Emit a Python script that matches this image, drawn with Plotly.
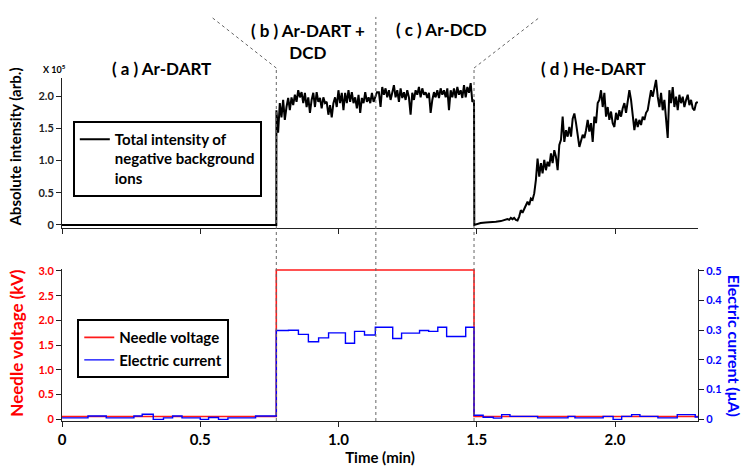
import numpy as np
import plotly.graph_objects as go

# ---------------- data ----------------
# Top panel: total intensity of negative background ions (x 10^5), time in min
seg_a_time = [0.0, 0.775]
seg_a_val = [0.0, 0.0]

seg_b_start, seg_b_end = 0.7755, 1.139
seg_b_val = [1.78, 1.43, 1.89, 1.67, 1.94, 1.63, 1.83, 1.97, 1.78, 1.98, 1.86, 2.02, 1.91,
             2.09, 1.98, 2.06, 1.89, 2.05, 1.83, 1.98, 1.74, 1.94, 2.05, 1.83, 2.06, 1.91,
             1.97, 1.81, 1.98, 1.89, 1.91, 1.71, 1.86, 1.67, 1.89, 1.98, 1.83, 2.09, 1.89,
             2.05, 1.78, 2.05, 1.89, 2.09, 1.91, 2.06, 1.89, 1.98, 1.81, 2.02, 1.74, 1.97,
             1.89, 2.06, 1.91, 1.98, 1.89, 2.05, 1.91, 1.98, 2.06]

seg_c_start, seg_c_end = 1.146, 1.490
seg_c_val = [2.06, 1.83, 2.14, 2.02, 2.12, 1.98, 2.09, 1.94, 2.05, 2.17, 1.98, 2.09, 1.91,
             2.12, 1.97, 2.06, 1.94, 2.09, 1.98, 1.71, 2.05, 1.94, 2.09, 2.02, 2.14, 1.98,
             2.12, 2.02, 2.06, 1.97, 2.05, 1.74, 1.94, 2.06, 1.98, 2.09, 1.97, 2.12, 2.02,
             2.09, 1.98, 2.12, 1.78, 2.09, 1.98, 2.12, 1.97, 2.14, 2.02, 2.09, 1.97, 2.17,
             1.98, 2.14, 2.05, 2.20, 1.91, 1.94]

seg_d1_time = [1.491, 1.514, 1.532, 1.551, 1.569, 1.587, 1.599]
seg_d1_val = [0.0, 0.03, 0.04, 0.04, 0.05, 0.06, 0.07]

seg_d2_start, seg_d2_end = 1.611, 1.871
seg_d2_val = [0.09, 0.08, 0.11, 0.09, 0.11, 0.08, 0.07, 0.13, 0.23, 0.19, 0.24, 0.31, 0.36,
              0.31, 0.41, 0.39, 0.49, 0.70, 1.03, 0.75, 0.96, 0.80, 1.01, 0.85, 0.98, 0.91,
              1.11, 0.96, 1.16, 1.06, 0.85, 1.24, 1.32, 1.68, 1.29, 1.47, 1.37, 1.52, 1.37,
              1.65, 1.73, 1.58, 1.42, 1.21]

seg_d3_start, seg_d3_end = 1.883, 2.299
seg_d3_val = [1.40, 1.35, 1.47, 1.63, 1.45, 1.58, 1.29, 1.68, 1.58, 1.89, 1.94, 2.09, 1.83,
              2.05, 1.68, 1.83, 1.63, 1.76, 1.58, 1.52, 1.74, 1.63, 1.78, 1.68, 1.81, 1.89,
              1.74, 1.89, 2.09, 1.94, 1.68, 1.47, 1.65, 1.52, 1.63, 1.55, 1.68, 1.63, 1.74,
              1.78, 1.94, 2.09, 1.99, 2.14, 2.25, 1.99, 1.83, 2.05, 1.78, 1.94, 1.68, 1.35,
              2.09, 1.89, 2.14, 1.83, 1.99, 1.78, 2.02, 1.89, 1.99, 1.83, 1.94, 2.02, 1.86,
              1.94, 1.81, 1.78, 1.89, 1.91]

# Bottom panel: needle voltage (kV), step changes
volt_time = [0.0, 0.775, 1.49, 2.3]
volt_val = [0.05, 3.02, 0.05, 0.05]

# Bottom panel: electric current (uA), step changes
curr_time = [0.0, 0.094, 0.16, 0.26, 0.29, 0.33, 0.367, 0.40, 0.434, 0.50, 0.53, 0.566, 0.60,
             0.70, 0.775, 0.819, 0.855, 0.891, 0.928, 0.964, 1.025, 1.058, 1.094, 1.133,
             1.196, 1.228, 1.293, 1.326, 1.359, 1.391, 1.46, 1.49, 1.523, 1.56, 1.59, 1.62,
             1.72, 1.83, 1.855, 1.957, 1.993, 2.024, 2.06, 2.09, 2.155, 2.225, 2.29, 2.3]
curr_val = [0.004, 0.010, 0.004, 0.010, 0.016, -0.001, 0.004, 0.010, 0.004, -0.001, 0.005,
            -0.001, 0.004, 0.010, 0.299, 0.300, 0.286, 0.261, 0.274, 0.291, 0.256, 0.296,
            0.284, 0.310, 0.272, 0.290, 0.299, 0.296, 0.310, 0.279, 0.310, 0.013, 0.006,
            0.003, 0.015, 0.009, 0.004, 0.009, 0.004, 0.009, -0.001, 0.009, 0.015, 0.009,
            0.004, 0.015, 0.007, 0.007]

phase_bounds = [0.775, 1.135, 1.49]
phase_labels = ["( a ) Ar-DART", "( b ) Ar-DART +<br>DCD", "( c ) Ar-DCD", "( d ) He-DART"]

x_ticks = [0, 0.5, 1.0, 1.5, 2.0]
x_ticktext = ["0", "0.5", "1.0", "1.5", "2.0"]
int_ticks = [0, 0.5, 1.0, 1.5, 2.0]
int_ticktext = ["0", "0.5", "1.0", "1.5", "2.0"]
volt_ticks = [0, 0.5, 1.0, 1.5, 2.0, 2.5, 3.0]
volt_ticktext = ["0", "0.5", "1.0", "1.5", "2.0", "2.5", "3.0"]
curr_ticks = [0, 0.1, 0.2, 0.3, 0.4, 0.5]
curr_ticktext = ["0", "0.1", "0.2", "0.3", "0.4", "0.5"]

# ---------------- build series ----------------
int_time = np.concatenate([
    seg_a_time,
    np.linspace(seg_b_start, seg_b_end, len(seg_b_val)),
    np.linspace(seg_c_start, seg_c_end, len(seg_c_val)),
    seg_d1_time,
    np.linspace(seg_d2_start, seg_d2_end, len(seg_d2_val)),
    np.linspace(seg_d3_start, seg_d3_end, len(seg_d3_val)),
])
int_val = np.concatenate([seg_a_val, seg_b_val, seg_c_val, seg_d1_val, seg_d2_val, seg_d3_val])

FONT = "Lato"
RED = "#ff1a1a"
BLUE = "#0000ff"

fig = go.Figure()
fig.add_trace(go.Scatter(
    x=int_time, y=int_val, mode="lines",
    line=dict(color="black", width=2),
    name="Total intensity of<br>negative background<br>ions",
    xaxis="x", yaxis="y", legend="legend", showlegend=True))
fig.add_trace(go.Scatter(
    x=volt_time, y=volt_val, mode="lines", line_shape="hv",
    line=dict(color=RED, width=1.6), name="Needle voltage",
    xaxis="x2", yaxis="y2", legend="legend2", showlegend=True))
fig.add_trace(go.Scatter(
    x=curr_time, y=curr_val, mode="lines", line_shape="hv",
    line=dict(color=BLUE, width=1.4), name="Electric current",
    xaxis="x2", yaxis="y3", legend="legend2", showlegend=True))

axis_common = dict(showline=True, linecolor="#222", linewidth=1, ticks="outside",
                   ticklen=5, tickcolor="#222", showgrid=False, zeroline=False,
                   automargin=False)

top_dom = [0.5627, 1.0]
bot_dom = [0.0, 0.4431]
v_lo, v_hi = -0.04, 3.04

fig.update_layout(
    width=749, height=468,
    margin=dict(l=62, r=51, t=78, b=47),
    paper_bgcolor="white", plot_bgcolor="white",
    showlegend=True,
    font=dict(family=FONT, color="black"),
    xaxis=dict(domain=[0, 1], anchor="y", range=[0, 2.3], tickvals=x_ticks,
               showticklabels=False, **axis_common),
    yaxis=dict(domain=top_dom, anchor="x", range=[-0.047, 2.28], tickvals=int_ticks,
               ticktext=int_ticktext,
               tickfont=dict(family=FONT, size=11, weight="bold", color="#222"),
               **axis_common),
    xaxis2=dict(domain=[0, 1], anchor="y2", range=[0, 2.3], matches="x",
                tickvals=x_ticks, ticktext=x_ticktext,
                tickfont=dict(family=FONT, size=15, weight="bold", color="black"),
                title=dict(text="Time (min)", standoff=4,
                           font=dict(family=FONT, size=15, weight="bold", color="black")),
                **axis_common),
    yaxis2=dict(domain=bot_dom, anchor="x2", range=[v_lo, v_hi], tickvals=volt_ticks,
                ticktext=volt_ticktext,
                tickfont=dict(family=FONT, size=11, weight="bold", color="red"),
                **axis_common),
    yaxis3=dict(domain=bot_dom, anchor="x2", overlaying="y2", side="right",
                range=[v_lo / 6, v_hi / 6], tickvals=curr_ticks, ticktext=curr_ticktext,
                tickfont=dict(family=FONT, size=11, weight="bold", color=BLUE),
                **axis_common),
    legend=dict(x=0.017, y=0.875, xanchor="left", yanchor="top",
                bordercolor="black", borderwidth=2, bgcolor="white", valign="top",
                font=dict(family=FONT, size=15, weight="bold", color="black")),
    legend2=dict(x=0.024, y=0.297, xanchor="left", yanchor="top",
                 bordercolor="black", borderwidth=2, bgcolor="white",
                 tracegroupgap=0,
                 font=dict(family=FONT, size=15, weight="bold", color="black")),
)

# phase boundary guide lines (dotted)
dot = dict(color="#666", width=1, dash="dot")
b1, b2, b3 = phase_bounds
fig.add_shape(type="line", xref="x", yref="paper", x0=b1, x1=b1, y0=0, y1=1.029, line=dot)
fig.add_shape(type="line", xref="x", yref="paper", x0=b1, x1=0.54, y0=1.029, y1=1.178, line=dot)
fig.add_shape(type="line", xref="x", yref="paper", x0=b2, x1=b2, y0=0, y1=1.178, line=dot)
fig.add_shape(type="line", xref="x", yref="paper", x0=b3, x1=b3, y0=0, y1=1.029, line=dot)
fig.add_shape(type="line", xref="x", yref="paper", x0=b3, x1=1.729, y0=1.029, y1=1.178, line=dot)

lab_font = dict(family=FONT, size=17, weight="bold", color="black")
label_pos = [(0.156, 1.029), (0.387, 1.105), (0.596, 1.140), (0.835, 1.029)]
for txt, (px, py) in zip(phase_labels, label_pos):
    fig.add_annotation(text=txt, xref="paper", yref="paper", x=px, y=py,
                       xanchor="center", yanchor="middle", showarrow=False, font=lab_font)

# axis titles and multiplier
fig.add_annotation(text="X 10<sup>5</sup>", xref="paper", yref="paper", x=-0.012, y=1.027,
                   xanchor="center", yanchor="middle", showarrow=False,
                   font=dict(family=FONT, size=9, weight="bold", color="black"))
fig.add_annotation(text="Absolute intensity (arb.)", xref="paper", yref="paper",
                   x=-0.074, y=0.80, textangle=-90, xanchor="center", yanchor="middle",
                   showarrow=False, font=dict(family=FONT, size=15, weight="bold", color="black"))
fig.add_annotation(text="Needle voltage (kV)", xref="paper", yref="paper",
                   x=-0.072, y=0.229, textangle=-90, xanchor="center", yanchor="middle",
                   showarrow=False, font=dict(family=FONT, size=17, weight="bold", color="red"))
fig.add_annotation(text="Electric current (μA)", xref="paper", yref="paper",
                   x=1.057, y=0.219, textangle=90, xanchor="center", yanchor="middle",
                   showarrow=False, font=dict(family=FONT, size=16, weight="bold", color=BLUE))

fig.write_html("out.html", config={"displayModeBar": False},
               post_script="document.body.style.margin='0';document.body.style.overflow='hidden';")
